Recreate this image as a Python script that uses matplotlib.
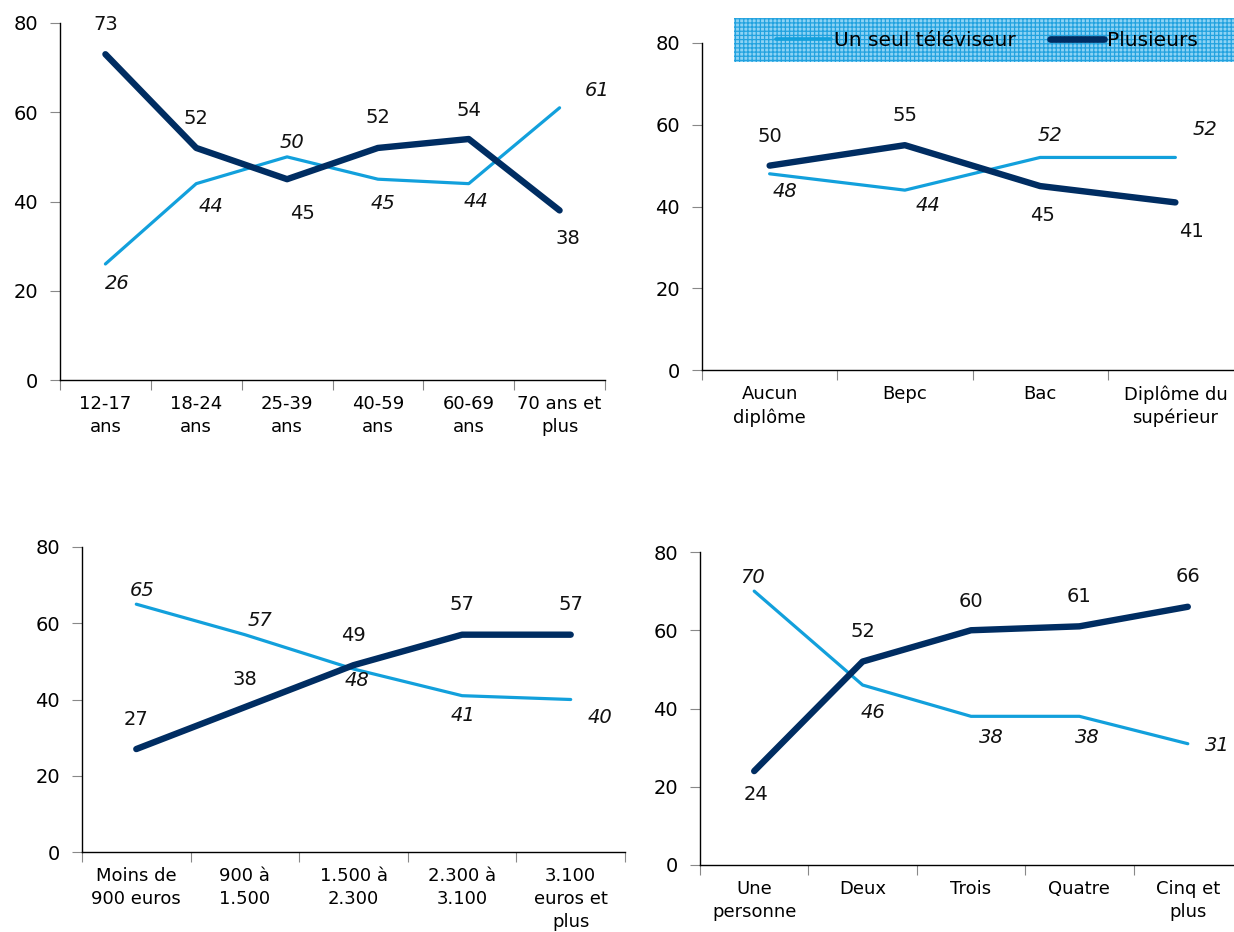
import matplotlib
matplotlib.use('Agg')
import matplotlib.pyplot as plt
from matplotlib.patches import Rectangle
from matplotlib.lines import Line2D

# donnees
age_labels = ['12-17\nans', '18-24\nans', '25-39\nans', '40-59\nans', '60-69\nans', '70 ans et\nplus']
age_seul = [26, 44, 50, 45, 44, 61]
age_plusieurs = [73, 52, 45, 52, 54, 38]

dipl_labels = ['Aucun\ndiplôme', 'Bepc', 'Bac', 'Diplôme du\nsupérieur']
dipl_seul = [48, 44, 52, 52]
dipl_plusieurs = [50, 55, 45, 41]

rev_labels = ['Moins de\n900 euros', '900 à\n1.500', '1.500 à\n2.300', '2.300 à\n3.100', '3.100\neuros et\nplus']
rev_seul = [65, 57, 48, 41, 40]
rev_plusieurs = [27, 38, 49, 57, 57]

foyer_labels = ['Une\npersonne', 'Deux', 'Trois', 'Quatre', 'Cinq et\nplus']
foyer_seul = [70, 46, 38, 38, 31]
foyer_plusieurs = [24, 52, 60, 61, 66]

LIGHT = '#12a0dc'
DARK = '#002d62'
W, H = 1234, 932

# positions des etiquettes (decalage en pixels) : (dx, dy)
off_age_seul = [(12, -20), (15, -23), (5, 14), (5, -24), (7, -18), (38, 17)]
off_age_plus = [(0, 30), (0, 29), (15, -34), (0, 30), (0, 29), (8, -28)]
off_dipl_seul = [(15, -18), (23, -15), (10, 22), (30, 28)]
off_dipl_plus = [(0, 29), (0, 30), (2, -29), (16, -29)]
off_rev_seul = [(6, 14), (15, 14), (4, -12), (1, -20), (29, -18)]
off_rev_plus = [(0, 30), (0, 28), (0, 30), (0, 30), (0, 30)]
off_foyer_seul = [(-2, 14), (10, -27), (20, -21), (8, -21), (30, -2)]
off_foyer_plus = [(2, -23), (0, 30), (0, 29), (0, 30), (0, 30)]


def draw_panel(fig, rect, labels, seul, plusieurs, off_seul, off_plus):
    left, top, right, bottom = rect
    ax = fig.add_axes([left / W, (H - bottom) / H, (right - left) / W, (bottom - top) / H])
    n = len(labels)
    x = list(range(n))
    ax.plot(x, seul, color=LIGHT, lw=2.3, solid_capstyle='round', solid_joinstyle='round', zorder=3)
    ax.plot(x, plusieurs, color=DARK, lw=4.6, solid_capstyle='round', solid_joinstyle='round', zorder=4)
    for i in range(n):
        ax.annotate(str(seul[i]), (x[i], seul[i]), xytext=off_seul[i], textcoords='offset pixels',
                    ha='center', va='center', fontsize=14, style='italic', color='#111111')
        ax.annotate(str(plusieurs[i]), (x[i], plusieurs[i]), xytext=off_plus[i], textcoords='offset pixels',
                    ha='center', va='center', fontsize=14, color='#111111')
    ax.set_xlim(-0.5, n - 0.5)
    ax.set_ylim(0, 80)
    ax.set_yticks([0, 20, 40, 60, 80])
    ax.set_xticks([i - 0.5 for i in range(n + 1)])
    ax.set_xticklabels([])
    ax.set_xticks(x, minor=True)
    ax.set_xticklabels(labels, minor=True, fontsize=13, linespacing=1.35)
    ax.tick_params(axis='x', which='major', direction='out', length=7, color='#888888')
    ax.tick_params(axis='x', which='minor', length=0, pad=11)
    ax.tick_params(axis='y', direction='out', length=7, color='#888888', labelsize=14, pad=9)
    for s in ['top', 'right']:
        ax.spines[s].set_visible(False)
    for s in ['left', 'bottom']:
        ax.spines[s].set_linewidth(1.0)
        ax.spines[s].set_color('black')
    ax.patch.set_alpha(0)
    return ax


plt.rcParams['hatch.linewidth'] = 0.9
fig = plt.figure(figsize=(W / 100, H / 100), dpi=100)

draw_panel(fig, (60, 23, 605, 380), age_labels, age_seul, age_plusieurs, off_age_seul, off_age_plus)
draw_panel(fig, (702, 43, 1243, 370), dipl_labels, dipl_seul, dipl_plusieurs, off_dipl_seul, off_dipl_plus)
draw_panel(fig, (82, 547, 625, 852), rev_labels, rev_seul, rev_plusieurs, off_rev_seul, off_rev_plus)
draw_panel(fig, (700, 552, 1242, 865), foyer_labels, foyer_seul, foyer_plusieurs, off_foyer_seul, off_foyer_plus)

# fond quadrille de la legende
fig.patches.append(Rectangle((734 / W, (H - 62) / H), 500 / W, 44 / H, transform=fig.transFigure,
                             facecolor='#8ed3f4', edgecolor='#22a2df', hatch='++++', lw=0, zorder=5))
handles = [Line2D([], [], color=LIGHT, lw=2.6, solid_capstyle='round'),
           Line2D([], [], color=DARK, lw=4.8, solid_capstyle='round')]
leg = fig.legend(handles, ['Un seul téléviseur', 'Plusieurs'], loc='center', bbox_to_anchor=(987 / W, (H - 41) / H),
                 ncol=2, frameon=False, fontsize=14.5, handlelength=2.7, handletextpad=0.15, columnspacing=1.7)
leg.set_zorder(6)

fig.savefig('out.png', dpi=100)
